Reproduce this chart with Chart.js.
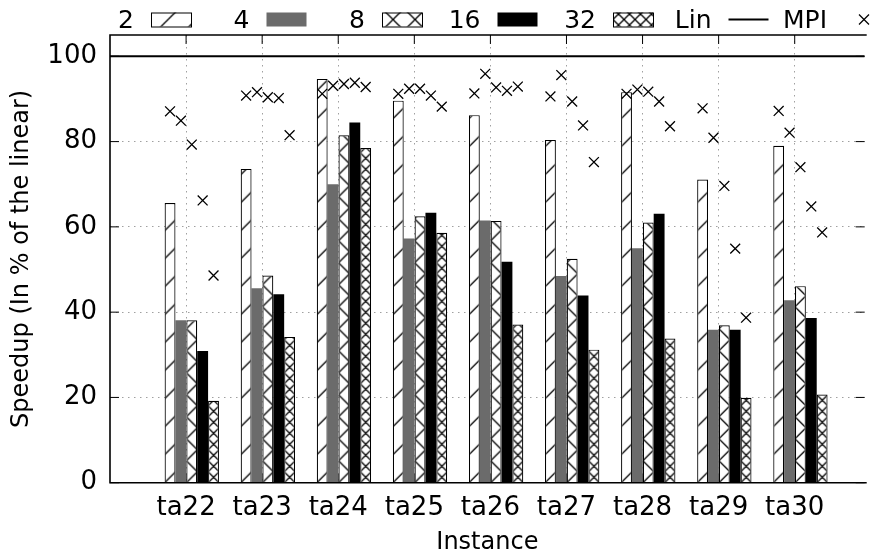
<!DOCTYPE html>
<html>
<head>
<meta charset="utf-8">
<script src="https://cdn.jsdelivr.net/npm/chart.js@4"></script>
<style>
  html, body { margin: 0; padding: 0; background: #fff; }
  canvas { display: block; }
</style>
</head>
<body>
<canvas id="chart" width="873" height="557"></canvas>
<script>
const instances = ['ta22', 'ta23', 'ta24', 'ta25', 'ta26', 'ta27', 'ta28', 'ta29', 'ta30'];
const procs = ['2', '4', '8', '16', '32'];

// speedup of each run, in % of the linear speedup
const speedup2  = [65.6, 73.6, 94.7, 89.6, 86.2, 80.4, 91.6, 71.1, 79.0];
const speedup4  = [38.1, 45.6, 70.0, 57.3, 61.5, 48.5, 55.0, 35.9, 42.8];
const speedup8  = [38.1, 48.6, 81.5, 62.5, 61.4, 52.5, 61.0, 36.9, 46.1];
const speedup16 = [30.9, 44.2, 84.5, 63.3, 51.8, 43.9, 63.1, 35.9, 38.6];
const speedup32 = [19.2, 34.2, 78.5, 58.6, 37.1, 31.2, 33.8, 19.9, 20.7];

// MPI version, same instances and process counts
const mpi2  = [87.1, 90.8, 91.2, 91.2, 91.3, 90.6, 91.2, 87.8, 87.2];
const mpi4  = [84.9, 91.6, 93.1, 92.4, 95.9, 95.6, 92.2, 80.9, 82.1];
const mpi8  = [79.3, 90.4, 93.5, 92.4, 92.7, 89.4, 91.7, 69.6, 74.0];
const mpi16 = [66.2, 90.2, 93.8, 90.8, 91.9, 83.8, 89.4, 54.9, 64.8];
const mpi32 = [48.6, 81.5, 92.8, 88.2, 92.9, 75.2, 83.6, 38.7, 58.7];

const linear = 100;
const yTicks = [0, 20, 40, 60, 80, 100];

const FONT = 'DejaVu Sans';
const CAT_PCT = 5 / 7;      // 5 bars + a gap of 2 bars per instance
const SHIFT = 0.075;        // gnuplot puts the cluster a bit right of the tic
const X_MIN = -1 - SHIFT, X_MAX = 8.92 - SHIFT;
const TICK = 9;

const seriesBars = [speedup2, speedup4, speedup8, speedup16, speedup32];
const seriesMpi = [mpi2, mpi4, mpi8, mpi16, mpi32];

function makeTile(size, lines) {
  const c = document.createElement('canvas');
  c.width = size; c.height = size;
  const g = c.getContext('2d');
  g.fillStyle = '#fff';
  g.fillRect(0, 0, size, size);
  g.strokeStyle = '#000';
  g.lineWidth = 1.3;
  g.beginPath();
  lines(g, size);
  g.stroke();
  return c;
}
// "/" lines: x + y = k*s
function slashes(g, s) {
  for (let k = 0; k <= 2; k++) { g.moveTo(k * s - s - 1, s + 1); g.lineTo(k * s + 1, -1); }
}
function backslashes(g, s) {
  for (let k = -1; k <= 1; k++) { g.moveTo(k * s - 1, -1); g.lineTo(k * s + s + 1, s + 1); }
}
const slashTile = makeTile(28, slashes);
const crossTile = makeTile(22, (g, s) => { slashes(g, s); backslashes(g, s); });
const denseTile = makeTile(11, (g, s) => { slashes(g, s); backslashes(g, s); });

// pattern lined up with the left edge of each bar
function barPattern(tile, k) {
  return (c) => {
    const chart = c.chart;
    const p = chart.ctx.createPattern(tile, 'repeat');
    const xs = chart.scales.x;
    if (xs && c.dataIndex !== undefined && chart.chartArea) {
      const step = xs.getPixelForValue(1) - xs.getPixelForValue(0);
      const bw = step * CAT_PCT / procs.length;
      const left = xs.getPixelForValue(c.dataIndex) + (k - procs.length / 2) * bw;
      p.setTransform(new DOMMatrix().translate(left, chart.chartArea.bottom));
    }
    return p;
  };
}

const fills = [barPattern(slashTile, 0), '#6b6b6b', barPattern(crossTile, 2), '#000000', barPattern(denseTile, 4)];
const borders = [1.2, 0, 1.2, 0, 1.2];

const datasets = seriesBars.map((vals, k) => ({
  type: 'bar',
  label: procs[k],
  data: vals.map((v, i) => ({ x: i, y: v })),
  backgroundColor: fills[k],
  borderColor: '#000',
  borderWidth: borders[k],
  categoryPercentage: CAT_PCT,
  barPercentage: 1,
  order: 2,
}));

datasets.push({
  type: 'line',
  label: 'Lin',
  data: [{ x: X_MIN, y: linear }, { x: X_MAX, y: linear }],
  borderColor: '#000',
  borderWidth: 2,
  pointRadius: 0,
  order: 1,
});

// the crosses sit over the middle of the bar of the same process count
seriesMpi.forEach((vals, k) => {
  datasets.push({
    type: 'scatter',
    label: 'MPI',
    data: vals.map((v, i) => ({ x: i + (k - 2) * CAT_PCT / procs.length, y: v })),
    pointStyle: 'crossRot',
    pointRadius: 7,
    borderColor: '#000',
    backgroundColor: '#000',
    borderWidth: 1.3,
    order: 0,
  });
});

function line(ctx, x1, y1, x2, y2) {
  ctx.beginPath();
  ctx.moveTo(x1, y1);
  ctx.lineTo(x2, y2);
  ctx.stroke();
}

const frame = {
  id: 'frame',
  beforeDatasetsDraw(chart) {
    const { ctx, chartArea: a, scales } = chart;
    ctx.save();
    ctx.strokeStyle = '#000';
    ctx.lineWidth = 1;
    instances.forEach((_, i) => {
      const px = scales.x.getPixelForValue(i - SHIFT);
      line(ctx, px, a.bottom, px, a.bottom - TICK);
    });
    ctx.restore();
  },
  afterDatasetsDraw(chart) {
    const { ctx, chartArea: a, scales } = chart;
    ctx.save();
    ctx.strokeStyle = '#000';
    ctx.lineWidth = 1;
    instances.forEach((_, i) => {
      const px = scales.x.getPixelForValue(i - SHIFT);
      line(ctx, px, a.top, px, a.top + TICK);
    });
    yTicks.forEach(v => {
      const py = scales.y.getPixelForValue(v);
      line(ctx, a.left, py, a.left + TICK, py);
      line(ctx, a.right, py, a.right - TICK, py);
    });
    ctx.lineWidth = 1.6;
    ctx.beginPath();
    ctx.moveTo(a.right + 2, a.top);
    ctx.lineTo(a.left, a.top);
    ctx.lineTo(a.left, a.bottom);
    ctx.lineTo(a.right + 2, a.bottom);
    ctx.stroke();
    ctx.restore();
  },
};

const keyBox = {
  id: 'keyBox',
  afterDraw(chart) {
    const ctx = chart.ctx;
    const names = procs.concat(['Lin', 'MPI']);
    const tiles = [slashTile, null, crossTile, null, denseTile];
    const solid = [null, '#6b6b6b', null, '#000000', null];
    const x0 = 151, pitch = 115.5, top = 12.5, w = 40, h = 14;
    ctx.save();
    ctx.font = '25px "' + FONT + '"';
    ctx.textAlign = 'right';
    ctx.textBaseline = 'alphabetic';
    names.forEach((name, k) => {
      const sx = x0 + pitch * k;
      ctx.fillStyle = '#000';
      ctx.fillText(name, sx - 17, 28);
      if (k < procs.length) {
        if (tiles[k]) {
          const p = ctx.createPattern(tiles[k], 'repeat');
          p.setTransform(new DOMMatrix().translate(sx, top - 4));
          ctx.fillStyle = p;
          ctx.fillRect(sx, top, w, h);
          ctx.strokeStyle = '#000';
          ctx.lineWidth = 1;
          ctx.strokeRect(sx + 0.5, top + 0.5, w, h);
        } else {
          ctx.fillStyle = solid[k];
          ctx.fillRect(sx, top, w, h);
        }
      } else if (name === 'Lin') {
        ctx.strokeStyle = '#000';
        ctx.lineWidth = 2;
        line(ctx, sx, top + h / 2, sx + w, top + h / 2);
      } else {
        const cx = sx + w / 2, cy = top + h / 2, r = 5;
        ctx.strokeStyle = '#000';
        ctx.lineWidth = 1.3;
        line(ctx, cx - r, cy - r, cx + r, cy + r);
        line(ctx, cx - r, cy + r, cx + r, cy - r);
      }
    });
    ctx.restore();
  },
};

const gridStyle = { color: '#a0a0a0', lineWidth: 1, drawTicks: false, offset: false };
const dots = { display: false, dash: [1.5, 4.5] };

new Chart(document.getElementById('chart'), {
  type: 'bar',
  data: { datasets: datasets },
  options: {
    responsive: false,
    animation: false,
    layout: { padding: { top: 35, right: 0, bottom: 0, left: 0 } },
    plugins: { legend: { display: false }, tooltip: { enabled: false } },
    scales: {
      x: {
        type: 'linear',
        position: 'bottom',
        offset: false,
        min: X_MIN,
        max: X_MAX,
        // tics sit a little left of each cluster of bars
        afterBuildTicks: (s) => { s.ticks = instances.map((_, i) => ({ value: i - SHIFT })); },
        afterFit: (s) => { s.height = 74.3; },
        grid: gridStyle,
        border: dots,
        ticks: {
          autoSkip: false,
          maxRotation: 0,
          padding: 10,
          color: '#000',
          font: { family: FONT, size: 26 },
          callback: (v) => instances[Math.round(v + SHIFT)],
        },
        title: {
          display: true,
          text: 'Instance',
          color: '#000',
          font: { family: FONT, size: 24 },
          padding: { top: 0, bottom: 0 },
        },
      },
      y: {
        type: 'linear',
        min: 0,
        max: 105,
        afterBuildTicks: (s) => { s.ticks = yTicks.map(v => ({ value: v })); },
        afterFit: (s) => { s.width = 110; },
        grid: gridStyle,
        border: dots,
        ticks: {
          padding: 13,
          color: '#000',
          font: { family: FONT, size: 26 },
        },
        title: {
          display: true,
          text: 'Speedup (In % of the linear)',
          color: '#000',
          font: { family: FONT, size: 24 },
          padding: { top: 7, bottom: 0 },
        },
      },
    },
  },
  plugins: [frame, keyBox],
});
</script>
</body>
</html>
